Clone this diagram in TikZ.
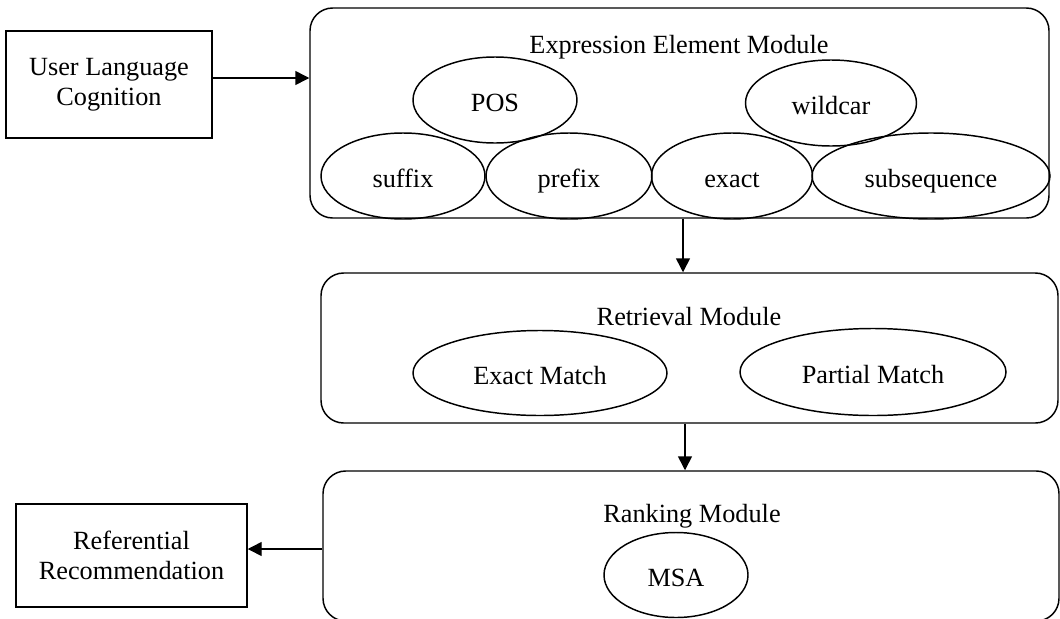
\documentclass[tikz,border=0pt]{standalone}
\usepackage{fontspec}
\setmainfont{Liberation Serif}
\usetikzlibrary{shapes.geometric,arrows.meta}
\begin{document}
\begin{tikzpicture}[x=0.75pt,y=-0.75pt,
  every node/.style={font=\fontsize{19.7}{22.5}\selectfont},
  box/.style={draw,line width=1.1pt,rectangle,align=center,inner sep=0pt},
  module/.style={draw,line width=1.1pt,rounded corners=17pt,inner sep=0pt},
  elem/.style={draw,line width=1.1pt,ellipse,inner sep=0pt,text height=16.5pt,text depth=0pt},
  title/.style={inner sep=0pt,text height=16.5pt,text depth=0pt},
  arr/.style={line width=1.1pt,-{Triangle[length=10.5pt,width=10.5pt]}}]
\useasboundingbox (0,0) rectangle (1060,618);

% left boxes
\node[box,minimum width=154.5pt,minimum height=80.25pt] (user) at (109,84.5) {User Language\\Cognition};
\node[box,minimum width=173.25pt,minimum height=77.25pt] (ref) at (131.5,555.5) {Referential\\Recommendation};

% modules
\node[module,minimum width=554.25pt,minimum height=157.5pt] (expr) at (679.5,113) {};
\node[module,minimum width=552.75pt,minimum height=112.5pt] (retr) at (689.5,348) {};
\node[module,minimum width=552pt,minimum height=112.5pt] (rank) at (691,546) {};

% titles
\node[title] (exprt) at (679,42) {Expression Element Module};
\node[title] (retrt) at (689,314) {Retrieval Module};
\node[title] (rankt) at (692,511) {Ranking Module};

% expression elements
\node[elem,minimum width=123pt,minimum height=64.5pt] (pos) at (495,100) {POS};
\node[elem,minimum width=128.25pt,minimum height=64.5pt] (wild) at (831,103) {wildcar};
\node[elem,minimum width=123pt,minimum height=64.5pt] (suffix) at (403,176) {suffix};
\node[elem,minimum width=124.5pt,minimum height=64.5pt] (prefix) at (569,176) {prefix};
\node[elem,minimum width=120.75pt,minimum height=64.5pt] (exact) at (732,176) {exact};
\node[elem,minimum width=178.5pt,minimum height=64.5pt] (subseq) at (931,176) {subsequence};

% retrieval elements
\node[elem,minimum width=190.5pt,minimum height=63.75pt] (em) at (540,373) {Exact Match};
\node[elem,minimum width=199.5pt,minimum height=65.25pt] (pm) at (873,372) {Partial Match};

% ranking element
\node[elem,minimum width=108pt,minimum height=63.75pt] (msa) at (676,575) {MSA};

% connectors
\draw[arr] (user.east |- 0,78) -- (expr.west |- 0,78);
\draw[arr] (expr.south -| 683,0) -- (retr.north -| 683,0);
\draw[arr] (retr.south -| 685,0) -- (rank.north -| 685,0);
\draw[arr] (rank.west |- 0,549) -- (ref.east |- 0,549);
\end{tikzpicture}
\end{document}
